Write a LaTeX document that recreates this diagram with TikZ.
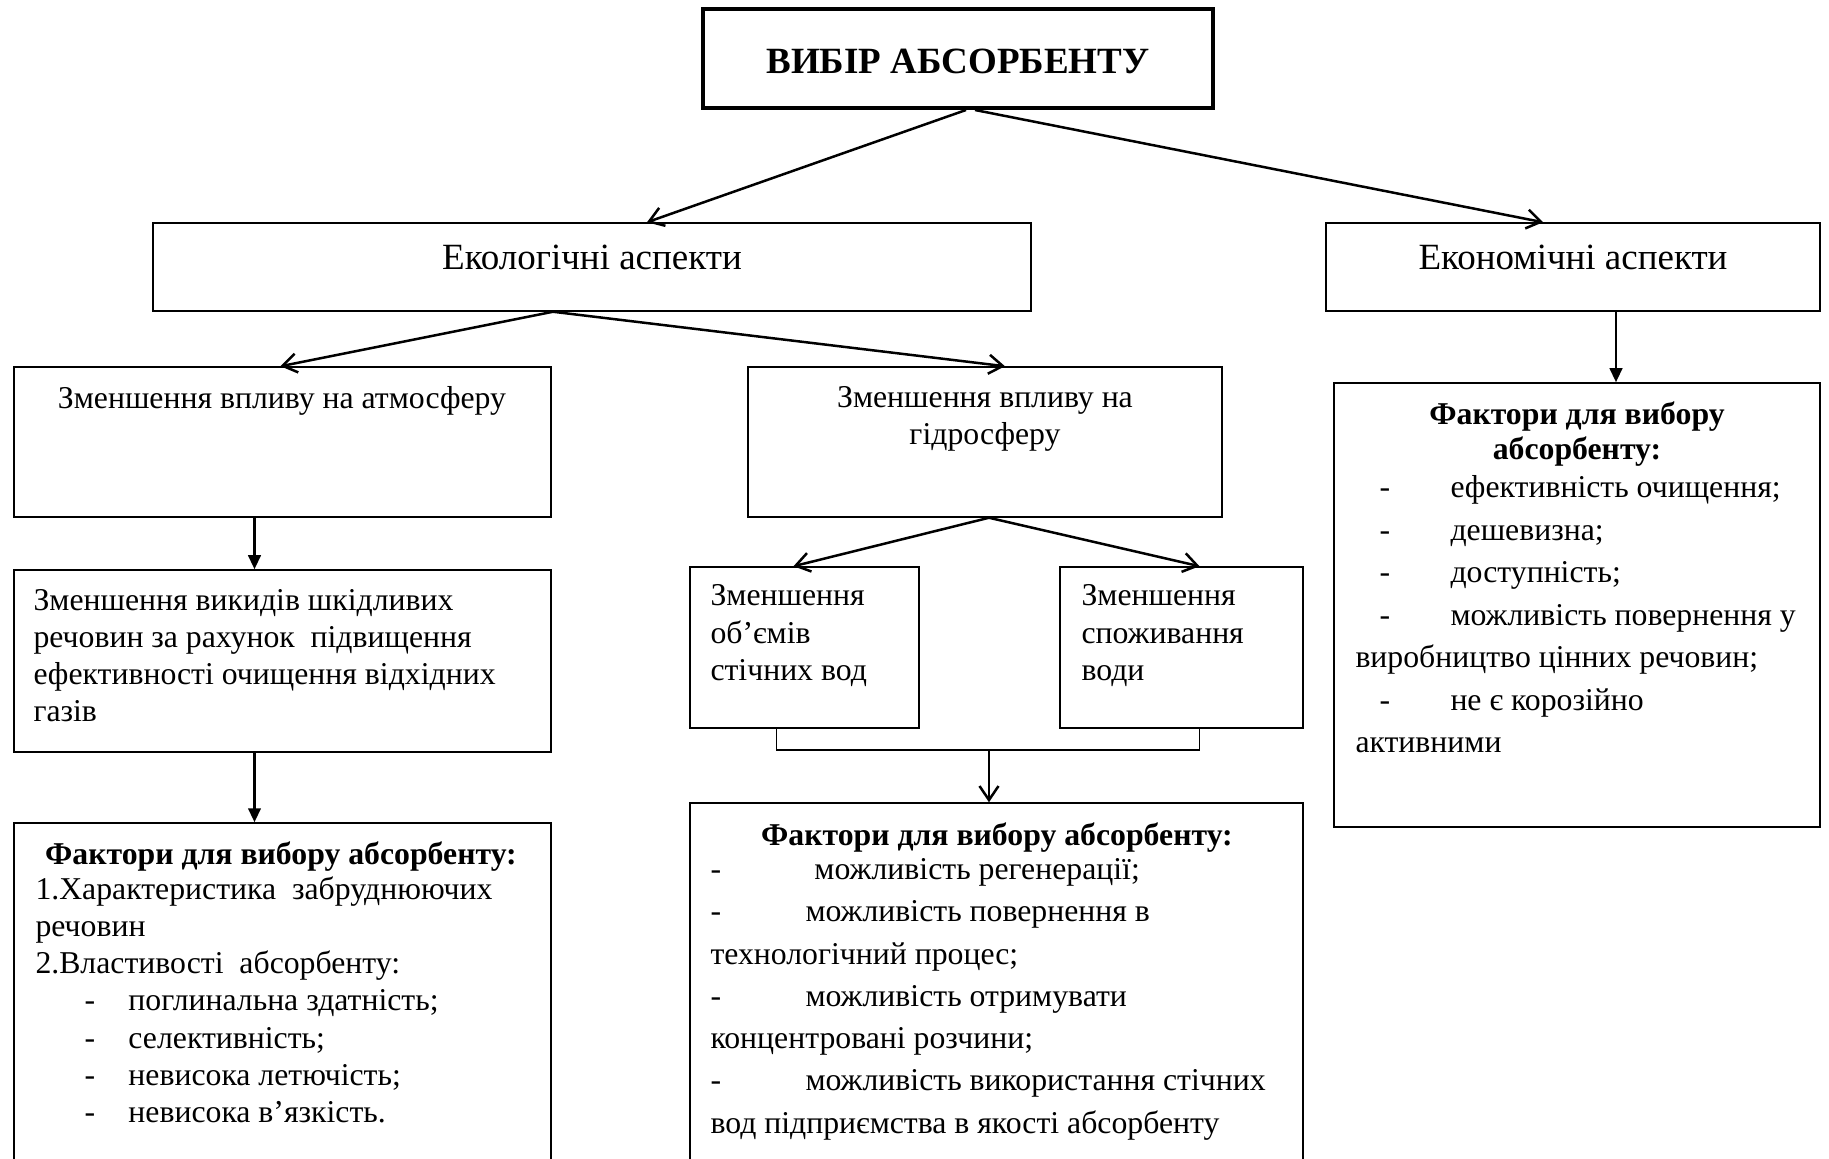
\documentclass[tikz,border=0pt]{standalone}
\usepackage{fontspec}
\setmainfont{Liberation Serif}
\usetikzlibrary{arrows.meta,calc}

% dash at #1, item text from #2
\newcommand{\lstdash}[2]{\makebox[#2][l]{\hspace{#1}-}}

\begin{document}
\begin{tikzpicture}
        [x=0.4pt,y=-0.4pt,
         box/.style={draw,line width=0.6pt,inner sep=0pt},
         body/.style={inner sep=0pt,font=\fontsize{12.7}{15}\selectfont},
         arr/.style={line width=1pt,-{Straight Barb[length=5.6pt,width=7.6pt]}},
         varr/.style={line width=1pt,-{Triangle[length=5.6pt,width=5pt]}}]
        \useasboundingbox (0,0) rectangle (1829,1159);
        \clip (0,0) rectangle (1829,1159);

        % boxes
        \node[box,line width=1.6pt,minimum width=204pt,minimum height=39.6pt,text height=12pt,text depth=0pt,
              font=\fontsize{14.8}{17}\selectfont\bfseries] (choice) at (958,58.5) {ВИБІР АБСОРБЕНТУ};
        \node[box,minimum width=351.2pt,minimum height=35.2pt,text height=10pt,text depth=8pt,
              font=\fontsize{14.8}{17}\selectfont] (eco) at (592,267) {Екологічні аспекти};
        \node[box,minimum width=197.6pt,minimum height=35.2pt,text height=10pt,text depth=8pt,
              font=\fontsize{14.8}{17}\selectfont] (econ) at (1573,267) {Економічні аспекти};
        \node[box,minimum width=214.8pt,minimum height=60pt] (atm) at (282.5,442) {};
        \node[box,minimum width=189.6pt,minimum height=60pt] (hyd) at (985,442) {};
        \node[box,minimum width=214.8pt,minimum height=72.8pt] (emis) at (282.5,661) {};
        \node[box,minimum width=214.8pt,minimum height=140.8pt] (fl) at (282.5,999) {};
        \node[box,minimum width=91.6pt,minimum height=64.4pt] (vol) at (804.5,647.5) {};
        \node[box,minimum width=97.2pt,minimum height=64.4pt] (cons) at (1181.5,647.5) {};
        \node[box,minimum width=245.2pt,minimum height=148.8pt] (fm) at (996.5,989) {};
        \node[box,minimum width=194.4pt,minimum height=177.6pt] (fr) at (1577,605) {};

        % texts
        \node[body,anchor=north] (atmtxt) at (282,386) {Зменшення впливу на атмосферу};
        \node[body,anchor=north,align=center,font=\fontsize{12.7}{14.8}\selectfont]
              (hydtxt) at (985,386) {Зменшення впливу на\\гідросферу};
        \node[body,anchor=north west,align=left,font=\fontsize{12.7}{14.8}\selectfont]
              (emistxt) at (33,589) {Зменшення викидів шкідливих\\речовин за рахунок\ \ підвищення\\ефективності очищення відхідних\\газів};
        \node[body,anchor=north west,align=left] (voltxt) at (710,584) {Зменшення\\об’ємів\\стічних вод};
        \node[body,anchor=north west,align=left] (constxt) at (1081,584) {Зменшення\\споживання\\води};

        \node[body,anchor=north,font=\fontsize{12.7}{15}\selectfont\bfseries] (fltitle) at (281,841) {Фактори для вибору абсорбенту:};
        \node[body,anchor=north west,align=left,font=\fontsize{12.7}{14.9}\selectfont] (fllist) at (35,876)
              {1.Характеристика\ \ забруднюючих\\речовин\\2.Властивості\ \ абсорбенту:\\
               \lstdash{19.6pt}{37.2pt}поглинальна здатність;\\
               \lstdash{19.6pt}{37.2pt}селективність;\\
               \lstdash{19.6pt}{37.2pt}невисока летючість;\\
               \lstdash{19.6pt}{37.2pt}невисока в’язкість.};

        \node[body,anchor=north,font=\fontsize{12.7}{15}\selectfont\bfseries] (fmtitle) at (997,822) {Фактори для вибору абсорбенту:};
        \node[body,anchor=north west,align=left,font=\fontsize{12.7}{16.9}\selectfont] (fmlist) at (710,858)
              {\lstdash{0pt}{41.6pt}можливість регенерації;\\
               \lstdash{0pt}{38pt}можливість повернення в\\технологічний процес;\\
               \lstdash{0pt}{38pt}можливість отримувати\\концентровані розчини;\\
               \lstdash{0pt}{38pt}можливість використання стічних\\вод підприємства в якості абсорбенту};

        \node[body,anchor=north,align=center,font=\fontsize{12.7}{14}\selectfont\bfseries] (frtitle) at (1577,401) {Фактори для вибору\\абсорбенту:};
        \node[body,anchor=north west,align=left,font=\fontsize{12.7}{17}\selectfont] (frlist) at (1355,475)
              {\lstdash{9.6pt}{38pt}ефективність очищення;\\
               \lstdash{9.6pt}{38pt}дешевизна;\\
               \lstdash{9.6pt}{38pt}доступність;\\
               \lstdash{9.6pt}{38pt}можливість повернення у\\виробництво цінних речовин;\\
               \lstdash{9.6pt}{38pt}не є корозійно\\активними};

        % connectors
        \draw[arr] ($(choice.south)+(8,0)$) -- ($(eco.north)+(55,0)$);
        \draw[arr] ($(choice.south)+(17,0)$) -- ($(econ.north)+(-30,0)$);
        \draw[arr] ($(eco.south)+(-39,0)$) -- ($(atm.north)+(-2,0)$);
        \draw[arr] ($(eco.south)+(-39,0)$) -- ($(hyd.north)+(20,0)$);
        \draw[varr] ($(atm.south)+(-28,0)$) -- ($(emis.north)+(-28,0)$);
        \draw[varr] ($(emis.south)+(-28,0)$) -- ($(fl.north)+(-28,0)$);
        \draw[varr] ($(econ.south)+(43,0)$) -- ($(fr.north)+(39,0)$);
        \draw[arr] ($(hyd.south)+(4,0)$) -- ($(vol.north)+(-11,0)$);
        \draw[arr] ($(hyd.south)+(4,0)$) -- ($(cons.north)+(18,0)$);

        \coordinate (join) at (989,750);
        \draw[line width=0.6pt] ($(vol.south)+(-28,0)$) |- (join) -| ($(cons.south)+(18,0)$);
        \draw[arr] (join) -- (join |- fm.north);
      \end{tikzpicture}
\end{document}
